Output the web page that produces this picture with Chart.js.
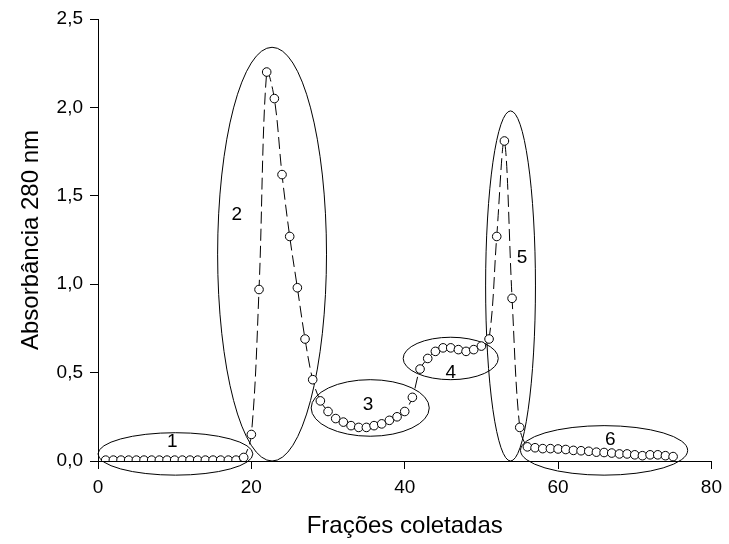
<!DOCTYPE html>
<html>
<head>
<meta charset="utf-8">
<script src="https://cdn.jsdelivr.net/npm/chart.js@4.4.1/dist/chart.umd.min.js"></script>
<style>
  html, body { margin: 0; padding: 0; background: #fff; }
  #wrap { width: 729px; height: 544px; }
</style>
</head>
<body>
<div id="wrap"><canvas id="elution"></canvas></div>
<script>
// =========================
// Data
// =========================
const fractions = [
   1,  2,  3,  4,  5,  6,  7,  8,  9, 10, 11, 12, 13, 14, 15,
  16, 17, 18, 19, 20, 21, 22, 23, 24, 25, 26, 27, 28, 29, 30,
  31, 32, 33, 34, 35, 36, 37, 38, 39, 40, 41, 42, 43, 44, 45,
  46, 47, 48, 49, 50, 51, 52, 53, 54, 55, 56, 57, 58, 59, 60,
  61, 62, 63, 64, 65, 66, 67, 68, 69, 70, 71, 72, 73, 74, 75
];

const absorbance = [
  0.005, 0.005, 0.005, 0.005, 0.005, 0.005, 0.005, 0.005, 0.005, 0.005,
  0.005, 0.005, 0.005, 0.005, 0.005, 0.005, 0.005, 0.005, 0.02,  0.15,
  0.97,  2.20,  2.05,  1.62,  1.27,  0.98,  0.69,  0.46,  0.34,  0.28,
  0.24,  0.22,  0.20,  0.19,  0.19,  0.20,  0.21,  0.23,  0.25,  0.28,
  0.36,  0.52,  0.58,  0.62,  0.64,  0.64,  0.63,  0.62,  0.63,  0.65,
  0.69,  1.27,  1.81,  0.92,  0.19,  0.08,  0.075, 0.07,  0.07,  0.068,
  0.065, 0.06,  0.058, 0.055, 0.05,  0.048, 0.045, 0.04,  0.04,  0.035,
  0.03,  0.035, 0.035, 0.03,  0.025
];

// peak groups: label, centre (x, y) and half-axes (rx, ry) in data units
const groupLabels = ["1", "2", "3", "4", "5", "6"];
const groupCx     = [10.1, 22.7, 35.5, 46.0, 53.8, 66.0];
const groupCy     = [0.04, 1.17, 0.30, 0.58, 0.99, 0.06];
const groupRx     = [10.1, 7.1,  7.7,  6.2,  3.25, 10.9];
const groupRy     = [0.12, 1.17, 0.16, 0.12, 0.99, 0.14];
const labelX      = [9.7,  18.1, 35.2, 46.0, 55.3, 66.8];
const labelY      = [0.11, 1.39, 0.32, 0.50, 1.15, 0.12];

const xTicks = [0, 20, 40, 60, 80];
const yTicks = [0, 0.5, 1.0, 1.5, 2.0, 2.5];

const FONT = "'Liberation Sans', Arial, sans-serif";

// ====================================
// Ellipses + numbers around the peaks
// ====================================
const groupEllipses = {
    id: "groupEllipses",
    beforeDatasetsDraw(chart) {
        const { ctx, scales: { x, y } } = chart;
        ctx.save();
        ctx.strokeStyle = "#000";
        ctx.lineWidth = 1;
        for (let i = 0; i < groupLabels.length; i++) {
            const cx = x.getPixelForValue(groupCx[i]);
            const cy = y.getPixelForValue(groupCy[i]);
            const rx = Math.abs(x.getPixelForValue(groupCx[i] + groupRx[i]) - cx);
            const ry = Math.abs(y.getPixelForValue(groupCy[i] + groupRy[i]) - cy);
            ctx.beginPath();
            ctx.ellipse(cx, cy, rx, ry, 0, 0, Math.PI * 2);
            ctx.stroke();
        }
        ctx.fillStyle = "#000";
        ctx.font = "19px " + FONT;
        ctx.textAlign = "center";
        ctx.textBaseline = "middle";
        for (let i = 0; i < groupLabels.length; i++) {
            ctx.fillText(groupLabels[i],
                x.getPixelForValue(labelX[i]),
                y.getPixelForValue(labelY[i]));
        }
        ctx.restore();
    }
};

const canvas = document.getElementById("elution");

new Chart(canvas, {
    type: "line",
    data: {
        labels: fractions,
        datasets: [{
            data: fractions.map((f, i) => ({ x: f, y: absorbance[i] })),
            borderColor: "#000",
            borderWidth: 1,
            borderDash: [12, 5],
            tension: 0.35,
            pointRadius: 4.3,
            pointBorderWidth: 1,
            pointBackgroundColor: "#fff",
            pointBorderColor: "#000"
        }]
    },
    options: {
        responsive: true,
        maintainAspectRatio: false,
        animation: false,
        layout: { padding: { top: 19, right: 16, bottom: 0, left: 0 } },
        plugins: {
            legend: { display: false },
            tooltip: { enabled: false }
        },
        scales: {
            x: {
                type: "linear",
                min: 0,
                max: 80,
                afterBuildTicks: s => { s.ticks = xTicks.map(v => ({ value: v })); },
                afterFit: s => { s.height = 83; },
                grid: { drawOnChartArea: false, color: "#000", tickLength: 8 },
                border: { color: "#000", width: 1 },
                ticks: {
                    color: "#000",
                    padding: 7,
                    maxRotation: 0,
                    font: { family: FONT, size: 19 }
                },
                title: {
                    display: true,
                    text: "Frações coletadas",
                    color: "#000",
                    padding: { top: 0, bottom: 3 },
                    font: { family: FONT, size: 24 }
                }
            },
            y: {
                min: 0,
                max: 2.5,
                afterBuildTicks: s => { s.ticks = yTicks.map(v => ({ value: v })); },
                afterFit: s => { s.width = 98; },
                grid: { drawOnChartArea: false, color: "#000", tickLength: 8 },
                border: { color: "#000", width: 1 },
                ticks: {
                    color: "#000",
                    padding: 7,
                    font: { family: FONT, size: 19 },
                    callback: v => v.toFixed(1).replace(".", ",")
                },
                title: {
                    display: true,
                    text: "Absorbância 280 nm",
                    color: "#000",
                    padding: { top: 17, bottom: 0 },
                    font: { family: FONT, size: 24 }
                }
            }
        }
    },
    plugins: [groupEllipses]
});
</script>
</body>
</html>
